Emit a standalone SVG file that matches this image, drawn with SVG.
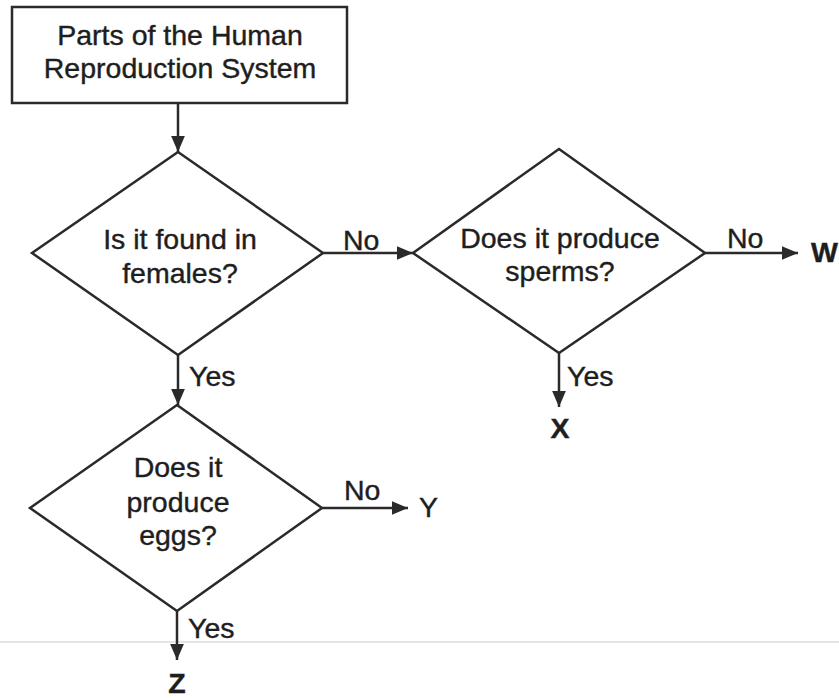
<svg xmlns="http://www.w3.org/2000/svg" width="839" height="698" viewBox="0 0 839 698">
<defs>
<style>
.shape{fill:#fff;stroke:#2a2a2a;stroke-width:2.5}
.line{stroke:#2a2a2a;stroke-width:2.5;fill:none}
text{font-family:"Liberation Sans",Arial,sans-serif;font-size:28.5px;fill:#1e1e1e;stroke:#1e1e1e;stroke-width:0.4}
.c{text-anchor:middle}
.b{font-weight:bold}
</style>
<marker id="ah" viewBox="0 0 14 14" refX="14" refY="7" markerWidth="16" markerHeight="16" orient="auto" markerUnits="userSpaceOnUse">
<path d="M0,1 L14,7 L0,13 Z" fill="#2a2a2a"/>
</marker>
</defs>
<rect width="839" height="698" fill="#fff"/>
<line x1="0" y1="642" x2="839" y2="642" stroke="#e4e4e4" stroke-width="2"/>
<g id="connectors">
<line class="line" x1="178" y1="103" x2="178" y2="152" marker-end="url(#ah)"/>
<line class="line" x1="323" y1="253" x2="413" y2="253" marker-end="url(#ah)"/>
<text x="343" y="250">No</text>
<line class="line" x1="705" y1="253" x2="798" y2="253" marker-end="url(#ah)"/>
<text x="727" y="248">No</text>
<line class="line" x1="559" y1="353" x2="559" y2="407" marker-end="url(#ah)"/>
<text x="567" y="386">Yes</text>
<line class="line" x1="178" y1="355" x2="178" y2="405" marker-end="url(#ah)"/>
<text x="189" y="386">Yes</text>
<line class="line" x1="322" y1="508" x2="408" y2="508" marker-end="url(#ah)"/>
<text x="344" y="500">No</text>
<line class="line" x1="177" y1="611" x2="177" y2="660" marker-end="url(#ah)"/>
<text x="188" y="638">Yes</text>
</g>
<g id="start">
<rect class="shape" x="12" y="7" width="335" height="96"/>
<text class="c" x="180" y="45">Parts of the Human</text>
<text class="c" x="180" y="78">Reproduction System</text>
</g>
<g id="q-females">
<polygon class="shape" points="178,152 323,253 178,355 32,253"/>
<text class="c" x="180" y="249">Is it found in</text>
<text class="c" x="180" y="283">females?</text>
</g>
<g id="q-sperms">
<polygon class="shape" points="559,149 705,253 559,353 413,253"/>
<text class="c" x="560" y="248">Does it produce</text>
<text class="c" x="560" y="281">sperms?</text>
</g>
<g id="q-eggs">
<polygon class="shape" points="177,405 322,508 177,611 30,508"/>
<text class="c" x="178" y="477">Does it</text>
<text class="c" x="178" y="512">produce</text>
<text class="c" x="178" y="545">eggs?</text>
</g>
<g id="W"><text class="b" x="811" y="262">W</text></g>
<g id="X"><text class="c b" x="560" y="438">X</text></g>
<g id="Y"><text x="419" y="517">Y</text></g>
<g id="Z"><text class="c b" x="177" y="693">Z</text></g>
</svg>
